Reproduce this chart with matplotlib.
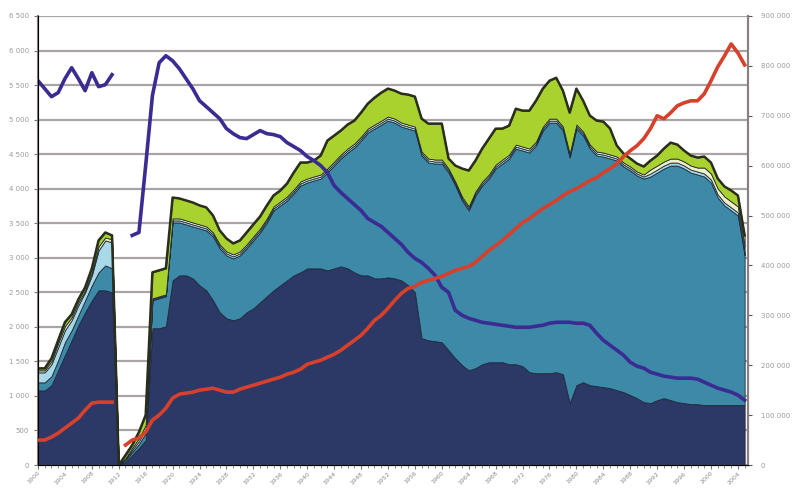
import numpy as np
import matplotlib
matplotlib.use("Agg")
import matplotlib.pyplot as plt
from matplotlib.ticker import MultipleLocator, FuncFormatter

nan = np.nan
years = list(range(1900, 2006))

# stacked layers (left axis)
navy = [1080, 1080, 1156, 1373, 1590, 1806, 2023, 2211, 2384, 2529, 2529, 2500,
        0, 43, 145, 246, 361, 1980, 1980, 2009,
        2673, 2746, 2746, 2702, 2601, 2529, 2384, 2211, 2124, 2095,
        2124, 2211, 2269, 2355, 2442, 2529, 2601, 2673, 2746, 2789,
        2847, 2847, 2847, 2818, 2847, 2876, 2847, 2789, 2746, 2746,
        2702, 2702, 2717, 2702, 2673, 2601, 2500, 1835, 1806, 1792,
        1777, 1662, 1546, 1445, 1373, 1402, 1459, 1488, 1488, 1488,
        1459, 1459, 1431, 1344, 1329, 1329, 1329, 1344, 1315, 896,
        1156, 1199, 1156, 1142, 1127, 1113, 1084, 1055, 1012, 968,
        910, 896, 939, 968, 939, 910, 896, 881, 881, 867,
        867, 867, 867, 867, 867, 867]
steel = [116, 116, 130, 145, 188, 145, 145, 173, 217, 260, 361, 347,
         0, 29, 43, 58, 101, 405, 434, 434,
         838, 766, 737, 751, 824, 867, 925, 925, 910, 896,
         910, 925, 983, 1012, 1069, 1156, 1156, 1156, 1185, 1257,
         1243, 1272, 1300, 1416, 1488, 1561, 1676, 1806, 1951, 2066,
         2168, 2225, 2269, 2254, 2225, 2269, 2341, 2644, 2572, 2572,
         2587, 2572, 2500, 2384, 2312, 2500, 2587, 2659, 2803, 2876,
         2977, 3121, 3121, 3179, 3295, 3511, 3627, 3612, 3526, 3555,
         3714, 3569, 3425, 3338, 3338, 3324, 3324, 3266, 3251, 3222,
         3237, 3280, 3295, 3324, 3396, 3425, 3396, 3352, 3324, 3309,
         3222, 3006, 2890, 2818, 2746, 2168]
cyan = [145, 145, 173, 188, 173, 145, 145, 116, 145, 318, 361, 376,
        0, 14, 29, 43, 58, 14, 14, 14] + [29] * 71 + [43] * 15
cream = [29, 29, 43, 58, 58, 43, 43, 29, 43, 58, 43, 43,
         0, 14, 29, 43, 58, 14, 14, 14] + [29] * 71 + [58] * 8 + [87] * 7
green = [29, 29, 43, 43, 58, 43, 43, 43, 58, 87, 72, 58,
         0, 43, 43, 87, 145, 376, 376, 376,
         303, 289, 289, 289, 275, 275, 246, 202, 188, 159,
         159, 173, 173, 173, 188, 159, 159, 188, 246, 275,
         231, 231, 275, 405, 376, 347, 347, 332, 347, 361,
         390, 405, 405, 405, 419, 434, 434, 477, 506, 520,
         520, 145, 231, 405, 520, 448, 477, 520, 520, 448,
         419, 520, 520, 549, 592, 549, 549, 592, 520, 592,
         520, 448, 419, 448, 448, 376, 159, 130, 116, 116,
         116, 130, 145, 188, 231, 202, 159, 145, 145, 159,
         159, 145, 145, 159, 159, 159]

# purple line (left axis)
purple = [5563, 5448, 5332, 5390, 5592, 5751, 5592, 5419, 5679, 5477, 5505, 5650,
          nan, nan, 3324, 3367, 4335, 5347, 5823, 5925,
          5852, 5737, 5592, 5448, 5274, 5188, 5101, 5014, 4870, 4797,
          4740, 4725, 4783, 4841, 4797, 4783, 4754, 4667, 4610, 4552,
          4465, 4407, 4335, 4234, 4046, 3945, 3858, 3771, 3685, 3569,
          3511, 3454, 3367, 3280, 3193, 3078, 2991, 2933, 2847, 2746,
          2572, 2500, 2240, 2168, 2124, 2095, 2066, 2052, 2037, 2023,
          2009, 1994, 1994, 1994, 2009, 2023, 2052, 2066, 2066, 2066,
          2052, 2052, 2023, 1907, 1806, 1734, 1662, 1590, 1488, 1431,
          1402, 1344, 1315, 1286, 1272, 1257, 1257, 1257, 1243, 1199,
          1156, 1113, 1084, 1055, 1012, 939]

# red line (right axis)
red = [50000, 50000, 56000, 64000, 74000, 84000, 94000, 110000, 124000, 126000, 126000, 126000,
       nan, 40000, 50000, 54000, 66000, 90000, 100000, 114000,
       134000, 142000, 144000, 146000, 150000, 152000, 154000, 150000, 146000, 146000,
       152000, 156000, 160000, 164000, 168000, 172000, 176000, 182000, 186000, 192000,
       202000, 206000, 210000, 216000, 222000, 230000, 240000, 250000, 260000, 274000,
       290000, 300000, 314000, 330000, 344000, 354000, 358000, 366000, 370000, 374000,
       378000, 384000, 390000, 394000, 398000, 406000, 418000, 430000, 440000, 450000,
       462000, 474000, 486000, 494000, 504000, 514000, 522000, 530000, 540000, 548000,
       554000, 562000, 570000, 576000, 586000, 594000, 604000, 618000, 630000, 640000,
       654000, 674000, 700000, 694000, 706000, 720000, 726000, 730000, 730000, 744000,
       770000, 798000, 820000, 844000, 826000, 802000]

layer_colors = ["#2c3866", "#3c89a8", "#a9d9e6", "#f1efc4", "#a9d22e"]

fig = plt.figure(figsize=(7.92, 4.88), dpi=100)
ax = fig.add_axes([38 / 792, 1 - 465 / 488, 710 / 792, 449 / 488])

ax.stackplot(years, navy, steel, cyan, cream, green, colors=layer_colors,
             edgecolor="#1f2a3a", linewidth=0.6, zorder=2)
total = np.array(navy) + np.array(steel) + np.array(cyan) + np.array(cream) + np.array(green)
ax.plot(years, total, color="#2b2e1c", lw=1.8, zorder=3)
ax.plot(years, purple, color="#3a2c92", lw=2.6, zorder=4)

ax.set_xlim(1900, 2005.5)
ax.set_ylim(0, 6500)
ax.yaxis.set_major_locator(MultipleLocator(500))
ax.yaxis.set_major_formatter(FuncFormatter(lambda v, p: f"{int(v):,}".replace(",", " ")))
ax.grid(axis="y", color="#aaa4a4", lw=1.6, zorder=0)
ax.set_axisbelow(True)
ax.xaxis.set_major_locator(MultipleLocator(4))
ax.xaxis.set_minor_locator(MultipleLocator(1))
ax.tick_params(axis="x", which="major", labelsize=4.5, labelcolor="#8a8a8a",
               length=3, color="#777777", labelrotation=45, pad=1)
ax.tick_params(axis="x", which="minor", length=2, color="#777777")
ax.tick_params(axis="y", labelsize=5, labelcolor="#9a9a9a", length=3, color="#777777")
for lbl in ax.get_xticklabels():
    lbl.set_ha("right")
    lbl.set_rotation_mode("anchor")

ax.spines["top"].set_visible(False)
ax.spines["left"].set_color("#8a8080")
ax.spines["left"].set_linewidth(1.5)
ax.spines["right"].set_color("#8a8080")
ax.spines["right"].set_linewidth(1.5)
ax.spines["bottom"].set_color("#777777")

ax2 = ax.twinx()
ax2.plot(years, red, color="#d7402b", lw=2.6, zorder=5)
ax2.set_ylim(0, 900000)
ax2.yaxis.set_major_locator(MultipleLocator(100000))
ax2.yaxis.set_major_formatter(FuncFormatter(lambda v, p: f"{int(v):,}".replace(",", " ")))
ax2.tick_params(axis="y", labelsize=5, labelcolor="#9a9a9a", length=3, color="#555555", pad=6)
ax2.spines["top"].set_visible(False)
ax2.spines["right"].set_color("#8a8080")
ax2.spines["right"].set_linewidth(1.5)

fig.savefig("out.png", dpi=100)
